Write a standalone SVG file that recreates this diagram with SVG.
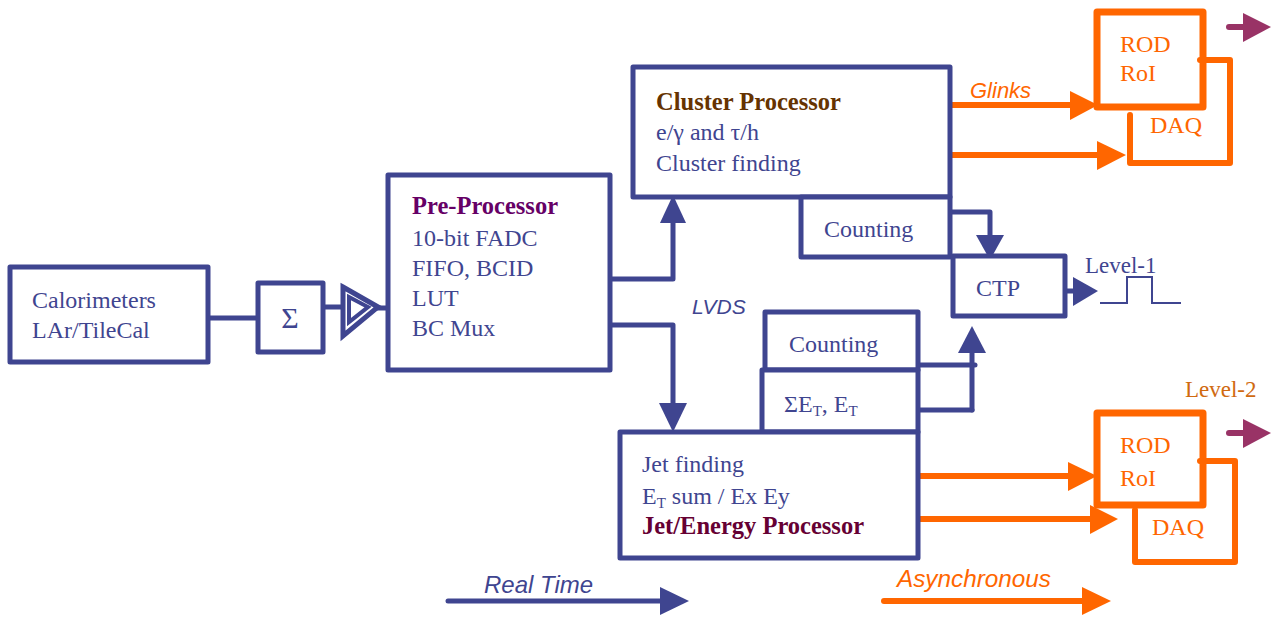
<svg xmlns="http://www.w3.org/2000/svg" width="1271" height="619" viewBox="0 0 1271 619">
<style>
.box{fill:#fff;stroke:#3F4590;stroke-width:5;stroke-linejoin:round}
.obox{fill:none;stroke:#FF6600;stroke-width:7;stroke-linejoin:round}
.t{font-family:"Liberation Serif","Times New Roman",serif;font-size:24px;fill:#3F4590}
.b{font-weight:bold;font-size:24.5px}
.ot{font-family:"Liberation Serif","Times New Roman",serif;font-size:24px;fill:#FF6600}
.it{font-family:"Liberation Sans",Arial,sans-serif;font-style:italic;font-size:22px}
.nl{fill:none;stroke:#3F4590;stroke-width:5;stroke-linecap:round;stroke-linejoin:round}
.ol{fill:none;stroke:#FF6600;stroke-width:6;stroke-linecap:round;stroke-linejoin:round}
.nh{fill:#3F4590}
.oh{fill:#FF6600}
.ph{fill:#993366}
</style>
<rect width="1271" height="619" fill="#fff"/>
<g id="connectors">
  <line class="nl" x1="208" y1="318" x2="258" y2="318"/>
  <line class="nl" x1="323" y1="307" x2="345" y2="307"/>
  <line class="nl" x1="372" y1="308" x2="390" y2="308"/>
  <polyline class="nl" points="610,279 673,279 673,220"/>
  <polygon class="nh" points="673,195 660,223 686,223"/>
  <polyline class="nl" points="610,325 673,325 673,405"/>
  <polygon class="nh" points="673,432 659,403 687,403"/>
  <polyline class="nl" points="946,212 990,212 990,238"/>
  <polygon class="nh" points="990,260 976,235 1004,235"/>
  <line class="nl" x1="1065" y1="291" x2="1076" y2="291"/>
  <polygon class="nh" points="1098,291 1073,277 1073,306"/>
  <polyline fill="none" stroke="#3F4590" stroke-width="2" points="1100,303 1127,303 1127,277 1152,277 1152,303 1181,303"/>
  <line class="nl" x1="918" y1="365" x2="975" y2="365"/>
  <line class="nl" x1="918" y1="410" x2="972" y2="410"/>
  <line class="nl" x1="972" y1="410" x2="972" y2="350"/>
  <polygon class="nh" points="972,326 958,353 986,353"/>
  <line class="ol" x1="950" y1="105" x2="1072" y2="105"/>
  <polygon class="oh" points="1098,105 1070,91 1070,120"/>
  <line class="ol" x1="950" y1="155" x2="1100" y2="155"/>
  <polygon class="oh" points="1126,155 1097,141 1097,170"/>
  <line class="ol" x1="918" y1="476" x2="1070" y2="476"/>
  <polygon class="oh" points="1097,476 1068,462 1068,491"/>
  <line class="ol" x1="918" y1="519" x2="1092" y2="519"/>
  <polygon class="oh" points="1118,519 1090,505 1090,534"/>
  <polyline class="ol" points="1200,60 1230,60 1230,163 1130,163 1130,115"/>
  <polyline class="ol" points="1200,461 1235,461 1235,562 1135,562 1135,510"/>
  <line stroke="#993366" stroke-width="6" stroke-linecap="round" x1="1229" y1="27" x2="1246" y2="27"/>
  <polygon class="ph" points="1271,27 1243,13 1243,42"/>
  <line stroke="#993366" stroke-width="6" stroke-linecap="round" x1="1229" y1="433" x2="1246" y2="433"/>
  <polygon class="ph" points="1271,433 1243,419 1243,448"/>
  <line class="nl" x1="448" y1="601" x2="662" y2="601"/>
  <polygon class="nh" points="689,601 660,587 660,615"/>
  <line class="ol" x1="884" y1="601" x2="1084" y2="601"/>
  <polygon class="oh" points="1111,601 1082,587 1082,615"/>
</g>
<g id="calorimeters">
  <rect class="box" x="10" y="267" width="198" height="95"/>
  <text class="t" x="32" y="308">Calorimeters</text>
  <text class="t" x="32" y="338">LAr/TileCal</text>
</g>
<g id="sum">
  <rect class="box" x="258" y="283" width="65" height="69"/>
  <text class="t" x="290" y="328" text-anchor="middle" style="font-size:30px">Σ</text>
</g>
<g id="buffer">
  <polygon points="343,287 378,307 343,336" fill="#fff" stroke="#3F4590" stroke-width="5" stroke-linejoin="miter"/>
  <polygon points="349,297 368,307 349,322" fill="#fff" stroke="#3F4590" stroke-width="4"/>
</g>
<g id="preprocessor">
  <rect class="box" x="388" y="175" width="222" height="195"/>
  <text class="t b" x="412" y="214" style="fill:#660066">Pre-Processor</text>
  <text class="t" x="412" y="246">10-bit FADC</text>
  <text class="t" x="412" y="276">FIFO, BCID</text>
  <text class="t" x="412" y="306">LUT</text>
  <text class="t" x="412" y="336">BC Mux</text>
</g>
<g id="cluster">
  <rect class="box" x="633" y="67" width="317" height="130"/>
  <text class="t b" x="656" y="110" style="fill:#663300">Cluster Processor</text>
  <text class="t" x="656" y="140">e/γ and τ/h</text>
  <text class="t" x="656" y="171">Cluster finding</text>
</g>
<g id="counting1">
  <rect class="box" x="801" y="197" width="149" height="60"/>
  <text class="t" x="824" y="237">Counting</text>
</g>
<g id="ctp">
  <rect class="box" x="953" y="256" width="112" height="60"/>
  <text class="t" x="976" y="296">CTP</text>
  <text class="t" x="1085" y="273" style="font-size:23px">Level-1</text>
</g>
<g id="counting2">
  <rect class="box" x="765" y="312" width="153" height="58"/>
  <text class="t" x="789" y="352">Counting</text>
</g>
<g id="sumet">
  <rect class="box" x="762" y="370" width="156" height="62"/>
  <text class="t" x="784" y="412">ΣE<tspan style="font-size:15px" dy="4">T</tspan><tspan dy="-4">, E</tspan><tspan style="font-size:15px" dy="4">T</tspan></text>
</g>
<g id="jetenergy">
  <rect class="box" x="620" y="432" width="298" height="126"/>
  <text class="t" x="642" y="472">Jet finding</text>
  <text class="t" x="642" y="504">E<tspan style="font-size:15px" dy="4">T</tspan><tspan dy="-4"> sum / Ex Ey</tspan></text>
  <text class="t b" x="642" y="534" style="fill:#660033">Jet/Energy Processor</text>
</g>
<g id="rod1">
  <rect class="obox" x="1097" y="12" width="106" height="95"/>
  <text class="ot" x="1120" y="52">ROD</text>
  <text class="ot" x="1120" y="81">RoI</text>
  <text class="ot" x="1150" y="133">DAQ</text>
</g>
<g id="rod2">
  <rect class="obox" x="1097" y="413" width="106" height="92"/>
  <text class="ot" x="1120" y="453">ROD</text>
  <text class="ot" x="1120" y="486">RoI</text>
  <text class="ot" x="1152" y="535">DAQ</text>
  <text class="t" x="1185" y="397" style="fill:#D06A10;font-size:23px">Level-2</text>
</g>
<g id="labels">
  <text class="it" x="970" y="98" style="fill:#FF6600">Glinks</text>
  <text class="it" x="692" y="314" style="fill:#3F4590;font-size:21px">LVDS</text>
  <text class="it" x="484" y="593" style="fill:#3F4590;font-size:24px" textLength="109" lengthAdjust="spacingAndGlyphs">Real Time</text>
  <text class="it" x="897" y="587" style="fill:#FF6600;font-size:24px" textLength="154" lengthAdjust="spacingAndGlyphs">Asynchronous</text>
</g>
</svg>
